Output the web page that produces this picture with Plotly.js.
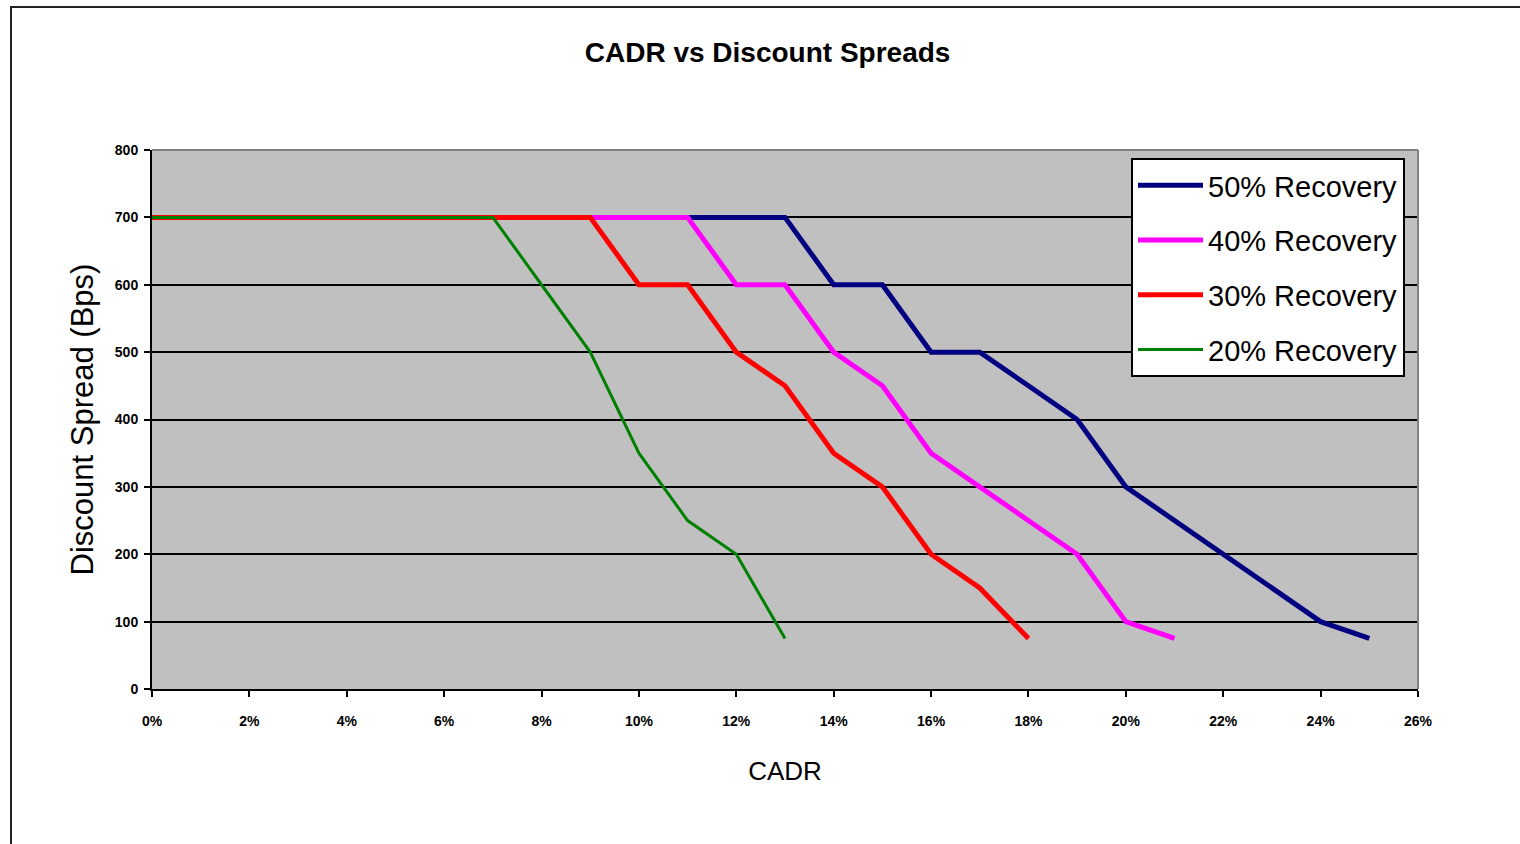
<!DOCTYPE html>
<html>
<head>
<meta charset="utf-8">
<script src="https://cdn.plot.ly/plotly-3.0.1.min.js"></script>
<style>
  html, body { margin: 0; padding: 0; overflow: hidden; background: #fff; }
  #chart { width: 1520px; height: 844px; }
  #frame { position: absolute; left: 10px; top: 6px; width: 2000px; height: 2000px;
           border: 2px solid #222; pointer-events: none; }
</style>
</head>
<body>
<div id="chart"></div>
<div id="frame"></div>
<script>
// CADR (%) values, one array per series
const cadr50 = [0, 1, 2, 3, 4, 5, 6, 7, 8, 9, 10, 11, 12, 13, 14, 15, 16, 17, 18, 19, 20, 21, 22, 23, 24, 25];
const spread50 = [700, 700, 700, 700, 700, 700, 700, 700, 700, 700, 700, 700, 700, 700, 600, 600, 500, 500, 450, 400, 300, 250, 200, 150, 100, 75];

const cadr40 = [0, 1, 2, 3, 4, 5, 6, 7, 8, 9, 10, 11, 12, 13, 14, 15, 16, 17, 18, 19, 20, 21];
const spread40 = [700, 700, 700, 700, 700, 700, 700, 700, 700, 700, 700, 700, 600, 600, 500, 450, 350, 300, 250, 200, 100, 75];

const cadr30 = [0, 1, 2, 3, 4, 5, 6, 7, 8, 9, 10, 11, 12, 13, 14, 15, 16, 17, 18];
const spread30 = [700, 700, 700, 700, 700, 700, 700, 700, 700, 700, 600, 600, 500, 450, 350, 300, 200, 150, 75];

const cadr20 = [0, 1, 2, 3, 4, 5, 6, 7, 8, 9, 10, 11, 12, 13];
const spread20 = [700, 700, 700, 700, 700, 700, 700, 700, 600, 500, 350, 250, 200, 75];

const seriesNames = ['50% Recovery', '40% Recovery', '30% Recovery', '20% Recovery'];
const xTickVals = [0, 2, 4, 6, 8, 10, 12, 14, 16, 18, 20, 22, 24, 26];
const yTickVals = [0, 100, 200, 300, 400, 500, 600, 700, 800];

const mk = (x, y, name, color, width, g) => ({
  x: x, y: y, name: name, type: 'scatter', mode: 'lines',
  line: { color: color, width: width }, legendgroup: g, hoverinfo: 'skip'
});

const traces = [
  mk(cadr50, spread50, seriesNames[0], '#000080', 5, 'a'),
  mk(cadr40, spread40, seriesNames[1], '#ff00ff', 5, 'b'),
  mk(cadr30, spread30, seriesNames[2], '#ff0000', 5, 'c'),
  mk(cadr20, spread20, seriesNames[3], '#008000', 3, 'd')
];

const tickFont = { size: 14, weight: 'bold', family: 'Arial, Liberation Sans, sans-serif', color: '#000' };

const layout = {
  width: 1520, height: 844,
  paper_bgcolor: '#ffffff',
  plot_bgcolor: '#c0c0c0',
  margin: { l: 152, r: 102, t: 150, b: 155 },
  font: { family: 'Arial, Liberation Sans, sans-serif', color: '#000' },
  title: {
    text: '<b>CADR vs Discount Spreads</b>',
    font: { size: 28, color: '#000', family: 'Arial, Liberation Sans, sans-serif' },
    xref: 'container', x: 0.505, xanchor: 'center',
    yref: 'container', y: 1 - 52 / 844, yanchor: 'middle'
  },
  xaxis: {
    range: [0, 26], tickvals: xTickVals, ticktext: xTickVals.map(v => v + '%'),
    showgrid: false, zeroline: false,
    showline: true, linecolor: '#000', linewidth: 2,
    ticks: 'outside', ticklen: 6, tickwidth: 2, tickcolor: '#000',
    tickfont: tickFont,
    ticklabelstandoff: 12,
    automargin: true,
    title: { text: 'CADR', font: { size: 26, color: '#000' }, standoff: 34 },
    fixedrange: true
  },
  yaxis: {
    range: [0, 800], tickvals: yTickVals,
    showgrid: true, gridcolor: '#000', gridwidth: 2,
    zeroline: false,
    showline: true, linecolor: '#000', linewidth: 2,
    ticks: 'outside', ticklen: 6, tickwidth: 2, tickcolor: '#000',
    tickfont: tickFont,
    ticklabelstandoff: 3,
    automargin: true,
    title: { text: 'Discount Spread (Bps)', font: { size: 31, color: '#000' }, standoff: 12 },
    fixedrange: true
  },
  shapes: [
    { type: 'line', xref: 'x domain', yref: 'y domain', x0: 0, x1: 1, y0: 1, y1: 1,
      line: { color: '#808080', width: 2 }, layer: 'above' },
    { type: 'line', xref: 'x domain', yref: 'y domain', x0: 1, x1: 1, y0: 0, y1: 1,
      line: { color: '#808080', width: 2 }, layer: 'above' }
  ],
  showlegend: true,
  legend: {
    x: (1131 - 152) / 1266, xanchor: 'left',
    y: (689 - 158) / 539, yanchor: 'top',
    bgcolor: '#ffffff', bordercolor: '#000', borderwidth: 2,
    font: { size: 29, color: '#000', family: 'Arial, Liberation Sans, sans-serif' },
    itemwidth: 65, tracegroupgap: 14,
    traceorder: 'grouped'
  },
  hovermode: false
};

Plotly.newPlot('chart', traces, layout, { displayModeBar: false, staticPlot: true });
</script>
</body>
</html>
